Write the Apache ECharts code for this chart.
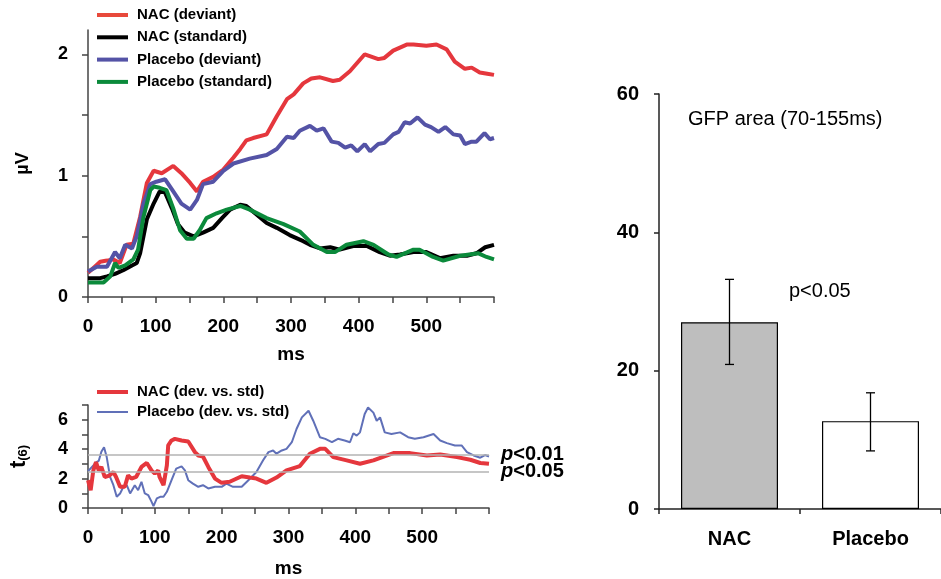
<!DOCTYPE html>
<html>
<head>
<meta charset="utf-8">
<script src="https://cdn.jsdelivr.net/npm/echarts@6/dist/echarts.min.js"></script>
<style>
html,body{margin:0;padding:0;background:#fff;}
#c{width:941px;height:579px;}
</style>
</head>
<body>
<div id="c"></div>
<script>
// ---------- Top panel: GFP waveforms (ms, µV) ----------
const nacDevT = [0,10,18,28,37,47,57,67,77,87,97,109,126,138,151,161,170,185,200,215,225,234,244,264,279,294,304,318,330,343,362,372,387,409,429,438,451,471,481,500,515,530,542,557,567,579,590,600];
const nacDevV = [0.20,0.25,0.29,0.30,0.31,0.28,0.43,0.44,0.66,0.94,1.04,1.02,1.08,1.02,0.94,0.87,0.95,0.99,1.05,1.15,1.22,1.29,1.31,1.34,1.49,1.63,1.67,1.76,1.80,1.81,1.78,1.79,1.86,2.00,1.96,1.97,2.03,2.08,2.08,2.07,2.08,2.04,1.94,1.88,1.89,1.85,1.84,1.83];

const nacStdT = [0,18,28,40,52,65,72,77,87,97,106,114,124,133,143,156,170,185,198,210,225,234,249,264,279,298,318,328,343,358,372,392,412,431,446,461,481,500,520,540,560,574,587,600];
const nacStdV = [0.155,0.155,0.17,0.19,0.22,0.26,0.28,0.36,0.64,0.77,0.87,0.86,0.73,0.60,0.53,0.50,0.53,0.57,0.65,0.72,0.76,0.75,0.68,0.61,0.57,0.51,0.46,0.43,0.40,0.41,0.39,0.42,0.42,0.37,0.34,0.35,0.37,0.37,0.32,0.34,0.34,0.36,0.41,0.43];

const plaDevT = [0,13,28,40,47,55,65,72,82,92,101,114,126,138,151,161,170,185,200,215,239,264,279,294,304,313,328,338,348,360,370,380,389,398,409,417,429,438,451,459,468,476,487,498,507,518,528,540,550,557,567,574,586,594,600];
const plaDevV = [0.21,0.25,0.25,0.37,0.32,0.43,0.40,0.50,0.77,0.93,0.95,0.97,0.87,0.77,0.72,0.80,0.93,0.95,1.04,1.10,1.14,1.17,1.22,1.32,1.31,1.37,1.41,1.37,1.39,1.28,1.27,1.23,1.25,1.20,1.26,1.20,1.26,1.27,1.34,1.36,1.44,1.43,1.48,1.42,1.40,1.36,1.40,1.34,1.33,1.26,1.28,1.28,1.35,1.30,1.31];

const plaStdT = [0,23,33,40,45,55,67,74,82,92,97,106,116,126,136,146,156,165,175,190,205,225,239,264,289,313,333,353,365,382,407,422,444,456,481,490,510,525,550,577,589,600];
const plaStdV = [0.12,0.12,0.17,0.28,0.24,0.26,0.31,0.39,0.66,0.88,0.91,0.90,0.88,0.73,0.55,0.48,0.48,0.55,0.65,0.69,0.72,0.75,0.72,0.65,0.60,0.54,0.43,0.37,0.37,0.43,0.46,0.43,0.35,0.33,0.39,0.39,0.33,0.30,0.34,0.36,0.33,0.31];

// ---------- Bottom panel: t-values ----------
const nacTT = [0,4,8,12,16,20,25,32,38,42,48,55,60,65,72,80,88,95,100,105,107,113,118,120,125,130,140,150,160,165,172,180,190,200,212,230,242,252,267,282,297,317,332,347,355,367,387,407,427,457,482,507,527,552,572,587,600];
const nacTV = [1.89,1.21,2.56,3.12,2.56,2.79,2.11,2.20,2.45,2.11,1.44,1.44,2.22,2.00,2.11,2.79,3.06,2.56,2.34,2.56,2.11,1.55,2.90,4.25,4.59,4.70,4.59,4.52,3.80,3.57,3.50,2.79,2.00,1.71,1.78,2.16,2.07,2.00,1.71,2.07,2.56,2.85,3.69,4.02,4.02,3.46,3.24,3.01,3.24,3.73,3.73,3.57,3.64,3.46,3.28,3.06,3.00];

const plaTT = [0,6,12,16,20,24,28,33,38,43,48,53,58,63,70,75,80,85,90,95,98,103,108,113,118,125,132,140,145,150,157,165,172,180,190,200,207,217,230,240,252,262,270,277,282,290,297,305,312,320,330,337,347,355,365,374,384,392,397,402,407,414,419,427,432,437,444,454,467,479,489,502,517,527,537,549,559,567,577,587,594,600];
const plaTV = [2.5,2.8,3.1,3.2,3.82,4.13,3.46,2.11,1.55,0.76,0.99,1.44,1.55,0.99,1.55,1.21,1.78,0.99,0.88,0.43,0.13,0.65,0.76,0.76,1.10,1.89,2.68,2.83,2.56,1.89,1.66,1.44,1.55,1.33,1.44,1.44,1.66,1.44,1.44,1.89,2.45,3.24,3.80,3.91,3.69,3.91,4.02,4.47,5.37,6.16,6.61,5.93,4.81,4.70,4.47,4.70,4.59,4.47,5.08,4.92,5.14,6.39,6.83,6.48,5.93,6.16,5.14,5.03,5.14,4.81,4.70,4.81,5.03,4.59,4.41,4.25,4.25,3.80,3.57,3.42,3.60,3.50];

const pThresholds = [3.65, 2.45];
const pLabels = ['<0.01', '<0.05'];

// ---------- Right panel: GFP area bars ----------
const barCategories = ['NAC', 'Placebo'];
const barValues = [27.0, 12.7];
const errLow = [20.9, 8.4];
const errHigh = [33.2, 16.8];

// ---------- Tick values ----------
const topXTicks = [0,50,100,150,200,250,300,350,400,450,500,550,600];
const topXLabels = [0,100,200,300,400,500];
const topYTicks = [0,0.5,1,1.5,2];
const topYLabels = [0,1,2];
const botYTicks = [0,1,2,3,4,5,6,7];
const botYLabels = [0,2,4,6];

const zip = (t, v) => t.map((x, i) => [x, v[i]]);

const FONT = '"Liberation Sans", Arial, Helvetica, sans-serif';
const RED = '#e5373d';
const BLUE = '#5453a6';
const BLUE2 = '#6070b8';
const GREEN = '#0b8a3b';
const AX = '#444';
const THICK = 'path://M0,0L31,0L31,4L0,4Z';
const THIN = 'path://M0,0L31,0L31,2L0,2Z';

const tickLbl = { fontFamily: FONT, fontWeight: 'bold', fontSize: 19, color: '#000' };

function leftX(idx, gap, nameGap, ticks, labels) {
  return {
    type: 'value', gridIndex: idx, min: 0, max: 600,
    name: 'ms', nameLocation: 'middle', nameGap: nameGap,
    nameTextStyle: { fontFamily: FONT, fontWeight: 'bold', fontSize: 19, color: '#000' },
    axisLine: { lineStyle: { color: AX, width: 1.5 } },
    axisTick: { show: true, length: 6, lineStyle: { color: AX, width: 1.5 }, customValues: ticks },
    axisLabel: Object.assign({ margin: gap, customValues: labels }, tickLbl),
    splitLine: { show: false }
  };
}

const legendText = { fontFamily: FONT, fontWeight: 'bold', fontSize: 15, lineHeight: 16, color: '#000', padding: [0,0,0,4] };

const option = {
  animation: false,
  backgroundColor: '#fff',
  grid: [
    { left: 88, top: 30, width: 406, height: 267 },
    { left: 88, top: 405, width: 401, height: 103 },
    { left: 659, top: 94, width: 290, height: 415 }
  ],
  legend: [
    {
      data: [
        { name: 'NAC (deviant)', icon: THICK, itemStyle: { color: '#e8493b' } },
        { name: 'NAC (standard)', icon: THICK, itemStyle: { color: '#000' } },
        { name: 'Placebo (deviant)', icon: THICK, itemStyle: { color: BLUE } },
        { name: 'Placebo (standard)', icon: THICK, itemStyle: { color: GREEN } }
      ],
      orient: 'vertical', left: 97, top: 7, padding: 0,
      itemWidth: 31, itemHeight: 14, itemGap: 6.3, symbolKeepAspect: true,
      textStyle: legendText
    },
    {
      data: [
        { name: 'NAC (dev. vs. std)', icon: THICK, itemStyle: { color: RED } },
        { name: 'Placebo (dev. vs. std)', icon: THIN, itemStyle: { color: BLUE2 } }
      ],
      orient: 'vertical', left: 97, top: 384, padding: 0,
      itemWidth: 31, itemHeight: 14, itemGap: 4, symbolKeepAspect: true,
      textStyle: legendText
    }
  ],
  xAxis: [
    leftX(0, 20, 48, topXTicks, topXLabels),
    leftX(1, 20, 51, topXTicks, topXLabels),
    {
      type: 'category', gridIndex: 2, data: barCategories, boundaryGap: true,
      axisLine: { lineStyle: { color: '#222', width: 1.5 } },
      axisTick: { show: true, length: 5, alignWithLabel: false, lineStyle: { color: '#222', width: 1.5 } },
      axisLabel: Object.assign({ margin: 20, interval: 0 }, tickLbl, { fontSize: 20 }),
      splitLine: { show: false }
    }
  ],
  yAxis: [
    {
      type: 'value', gridIndex: 0, min: 0, max: 2.2,
      name: 'µV', nameLocation: 'middle', nameGap: 56,
      nameTextStyle: { fontFamily: FONT, fontWeight: 'bold', fontSize: 18, color: '#000' },
      axisLine: { show: true, lineStyle: { color: AX, width: 1.5 } },
      axisTick: { show: true, length: 6, lineStyle: { color: AX, width: 1.5 }, customValues: topYTicks },
      axisLabel: Object.assign({ margin: 20, customValues: topYLabels }, tickLbl, { fontSize: 18 }),
      splitLine: { show: false }
    },
    {
      type: 'value', gridIndex: 1, min: 0, max: 7,
      name: '{t|t}{s|(6)}', nameLocation: 'middle', nameGap: 58,
      nameTextStyle: {
        fontFamily: FONT, fontWeight: 'bold', color: '#000',
        rich: {
          t: { fontFamily: FONT, fontWeight: 'bold', fontSize: 22, color: '#000' },
          s: { fontFamily: FONT, fontWeight: 'bold', fontSize: 13, color: '#000', padding: [10, 0, 0, 0] }
        }
      },
      axisLine: { show: true, lineStyle: { color: AX, width: 1.5 } },
      axisTick: { show: true, length: 6, lineStyle: { color: AX, width: 1.5 }, customValues: botYTicks },
      axisLabel: Object.assign({ margin: 20, customValues: botYLabels }, tickLbl, { fontSize: 18 }),
      splitLine: { show: false }
    },
    {
      type: 'value', gridIndex: 2, min: 0, max: 60, interval: 20,
      axisLine: { show: true, lineStyle: { color: '#222', width: 1.5 } },
      axisTick: { show: true, length: 5, lineStyle: { color: '#222', width: 1.5 } },
      axisLabel: Object.assign({ margin: 20 }, tickLbl, { fontSize: 20 }),
      splitLine: { show: false }
    }
  ],
  series: [
    { name: 'NAC (deviant)', type: 'line', xAxisIndex: 0, yAxisIndex: 0, data: zip(nacDevT, nacDevV), showSymbol: false, symbol: 'none', color: RED, lineStyle: { width: 4, color: RED } },
    { name: 'NAC (standard)', type: 'line', xAxisIndex: 0, yAxisIndex: 0, data: zip(nacStdT, nacStdV), showSymbol: false, symbol: 'none', color: '#000', lineStyle: { width: 4, color: '#000' } },
    { name: 'Placebo (deviant)', type: 'line', xAxisIndex: 0, yAxisIndex: 0, data: zip(plaDevT, plaDevV), showSymbol: false, symbol: 'none', color: BLUE, lineStyle: { width: 4, color: BLUE } },
    { name: 'Placebo (standard)', type: 'line', xAxisIndex: 0, yAxisIndex: 0, data: zip(plaStdT, plaStdV), showSymbol: false, symbol: 'none', color: GREEN, lineStyle: { width: 4, color: GREEN } },
    {
      name: 'thresholds', type: 'line', xAxisIndex: 1, yAxisIndex: 1, data: [], z: 1,
      markLine: {
        silent: true, symbol: ['none', 'none'], animation: false,
        lineStyle: { color: '#b3b3b3', width: 1.5, type: 'solid' },
        label: {
          show: true, position: 'end', distance: 12,
          formatter: p => '{i|p}{n|' + p.name + '}',
          rich: {
            i: { fontFamily: FONT, fontWeight: 'bold', fontStyle: 'italic', fontSize: 20, color: '#000' },
            n: { fontFamily: FONT, fontWeight: 'bold', fontSize: 20, color: '#000' }
          }
        },
        emphasis: { disabled: true },
        data: pThresholds.map((y, i) => ({ yAxis: y, name: pLabels[i] }))
      }
    },
    { name: 'Placebo (dev. vs. std)', type: 'line', xAxisIndex: 1, yAxisIndex: 1, data: zip(plaTT, plaTV), showSymbol: false, symbol: 'none', color: BLUE2, lineStyle: { width: 2, color: BLUE2 }, z: 2 },
    { name: 'NAC (dev. vs. std)', type: 'line', xAxisIndex: 1, yAxisIndex: 1, data: zip(nacTT, nacTV), showSymbol: false, symbol: 'none', color: RED, lineStyle: { width: 4, color: RED }, z: 3 },
    {
      name: 'GFP area', type: 'bar', xAxisIndex: 2, yAxisIndex: 2, barWidth: 97,
      data: barValues.map((v, i) => ({ value: v, itemStyle: { color: i === 0 ? '#bebebe' : '#ffffff', borderColor: '#000', borderWidth: 1.2 } }))
    },
    {
      name: 'error', type: 'custom', xAxisIndex: 2, yAxisIndex: 2, z: 5,
      data: barCategories.map((c, i) => [i, errLow[i], errHigh[i]]),
      encode: { x: 0, y: [1, 2] },
      renderItem: function (params, api) {
        const x = api.value(0);
        const lo = api.coord([x, api.value(1)]);
        const hi = api.coord([x, api.value(2)]);
        const w = 4.5;
        const st = { stroke: '#000', lineWidth: 1.3 };
        return {
          type: 'group',
          children: [
            { type: 'line', shape: { x1: hi[0], y1: hi[1], x2: lo[0], y2: lo[1] }, style: st },
            { type: 'line', shape: { x1: hi[0] - w, y1: hi[1], x2: hi[0] + w, y2: hi[1] }, style: st },
            { type: 'line', shape: { x1: lo[0] - w, y1: lo[1], x2: lo[0] + w, y2: lo[1] }, style: st }
          ]
        };
      }
    }
  ],
  graphic: [
    { type: 'text', left: 688, top: 109, style: { text: 'GFP area (70-155ms)', font: '20px ' + FONT, fill: '#000' } },
    { type: 'text', left: 789, top: 281, style: { text: 'p<0.05', font: '20px ' + FONT, fill: '#000' } }
  ]
};

const chart = echarts.init(document.getElementById('c'), null, { renderer: 'canvas' });
chart.setOption(option);
</script>
</body>
</html>
